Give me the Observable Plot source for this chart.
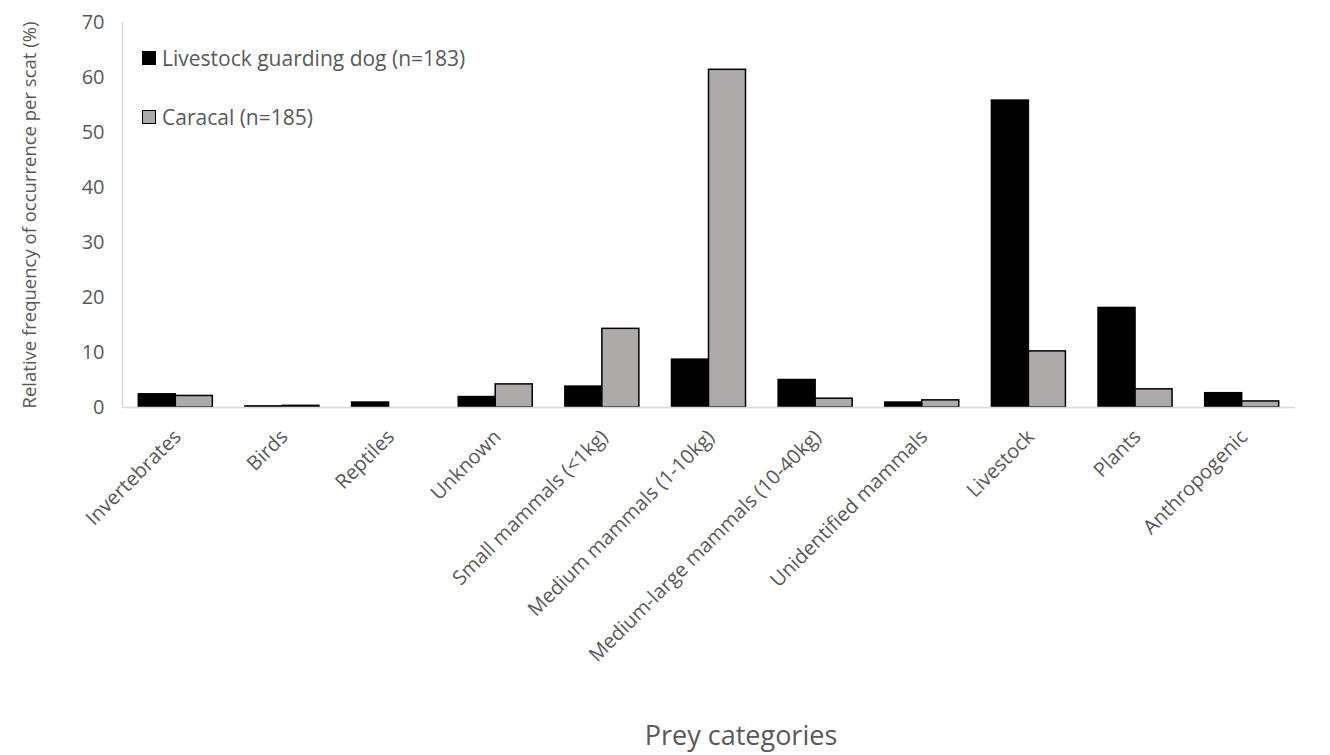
<!DOCTYPE html>
<html>
<head>
<meta charset="utf-8">
<script src="https://cdn.jsdelivr.net/npm/d3@7"></script>
<script src="https://cdn.jsdelivr.net/npm/@observablehq/plot@0.6"></script>
<style>
  html, body { margin: 0; padding: 0; background: #fff; }
  #wrap { position: relative; width: 1330px; height: 755px; font-family: "Open Sans", sans-serif; }
  #legend { position: absolute; left: 142px; top: 43px; color: #595959; font-size: 21px; }
  #legend .row { display: flex; align-items: center; height: 30px; margin-bottom: 29px; }
  #legend .sw { width: 14px; height: 14px; margin-right: 6px; box-sizing: border-box; }
</style>
</head>
<body>
<div id="wrap">
  <div id="chart"></div>
  <div id="legend"></div>
</div>
<script>
// Prey categories along the x axis
const categories = [
  "Invertebrates", "Birds", "Reptiles", "Unknown", "Small mammals (<1kg)",
  "Medium mammals (1-10kg)", "Medium-large mammals (10-40kg)",
  "Unidentified mammals", "Livestock", "Plants", "Anthropogenic"
];
// Relative frequency of occurrence per scat (%)
const dogValues     = [2.4, 0.2, 0.9, 1.9, 3.8, 8.7, 5.0, 0.9, 55.8, 18.1, 2.6];
const caracalValues = [2.1, 0.3, 0.0, 4.2, 14.3, 61.4, 1.6, 1.3, 10.2, 3.3, 1.1];
const seriesNames = ["Livestock guarding dog (n=183)", "Caracal (n=185)"];
const yTicks = [0, 10, 20, 30, 40, 50, 60, 70];

const fills = ["#000000", "#AEAAAA"];
const gap = 0.153; // half of the gap between groups, in category units

const rows = categories.flatMap((c, i) => [
  {category: c, series: seriesNames[0], value: dogValues[i], x1: i + gap, x2: i + 0.5},
  {category: c, series: seriesNames[1], value: caracalValues[i], x1: i + 0.5, x2: i + 1 - gap}
]);

const textColor = "#595959";
const axisColor = "#D9D9D9";

const chart = Plot.plot({
  width: 1330,
  height: 755,
  marginTop: 22,
  marginBottom: 348,
  marginLeft: 122,
  marginRight: 35,
  style: {fontFamily: "Open Sans, sans-serif", fontSize: "20px", color: textColor, background: "#fff"},
  x: {type: "linear", domain: [0, categories.length]},
  y: {domain: [0, 70]},
  color: {domain: seriesNames, range: fills},
  marks: [
    Plot.ruleX([0], {y1: 0, y2: 70, stroke: axisColor, strokeWidth: 1.5}),
    Plot.rectY(rows, {
      x1: "x1", x2: "x2", y: "value",
      fill: "series",
      stroke: "#000", strokeWidth: 1.5
    }),
    Plot.ruleY([0], {stroke: axisColor, strokeWidth: 1.5}),
    Plot.axisY({
      ticks: yTicks, tickSize: 0, tickPadding: 18,
      fontSize: 20,
      label: "Relative frequency of occurrence per scat (%)",
      labelAnchor: "center", labelArrow: "none", labelOffset: 100
    }),
    Plot.axisX({
      ticks: categories.map((_, i) => i + 0.5),
      tickFormat: (d) => categories[Math.round(d - 0.5)],
      tickSize: 0, tickPadding: 26, tickRotate: -45, dx: 2,
      fontSize: 20,
      label: "Prey categories",
      labelAnchor: "center", labelArrow: "none", labelOffset: 337
    })
  ]
});

// Axis title sizes and placement
chart.querySelectorAll("[aria-label='y-axis label'] text").forEach(t => t.setAttribute("font-size", "18.5px"));
chart.querySelectorAll("[aria-label='x-axis label'] text").forEach(t => {
  t.setAttribute("font-size", "27px");
  t.setAttribute("dx", "32");
});

document.getElementById("chart").appendChild(chart);

// Legend in the upper-left of the plot area
const legend = document.getElementById("legend");
seriesNames.forEach((name, i) => {
  const row = document.createElement("div");
  row.className = "row";
  const sw = document.createElement("div");
  sw.className = "sw";
  sw.style.background = fills[i];
  sw.style.border = "1.5px solid #000";
  const label = document.createElement("span");
  label.textContent = name;
  row.appendChild(sw);
  row.appendChild(label);
  legend.appendChild(row);
});
</script>
</body>
</html>
